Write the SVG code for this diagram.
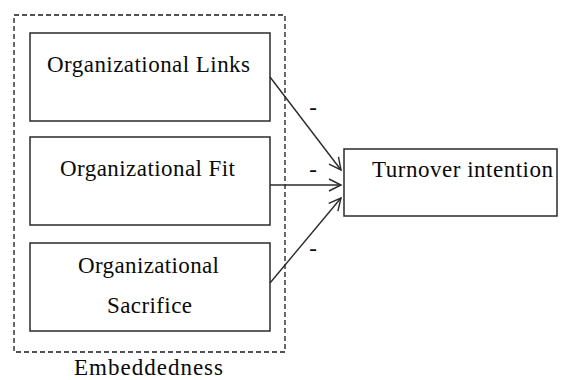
<svg xmlns="http://www.w3.org/2000/svg" width="572" height="380" viewBox="0 0 572 380">
  <style>
    .box { fill: #ffffff; stroke: #2a2a2a; stroke-width: 1.5; }
    .frame { fill: none; stroke: #1a1a1a; stroke-width: 1.3; stroke-dasharray: 5 3; }
    .label { font-size: 23px; fill: #0a0a0a; text-anchor: middle; }
    .edge { fill: none; stroke: #2a2a2a; stroke-width: 1.4; }
  </style>
  <defs>
    <marker id="open-arrow" markerWidth="16" markerHeight="16" refX="14" refY="8" orient="auto" markerUnits="userSpaceOnUse">
      <polyline points="2,2 14,8 2,14" fill="none" stroke="#2a2a2a" stroke-width="1.4"/>
    </marker>
  </defs>
  <rect width="572" height="380" fill="#ffffff"/>

  <g font-family="'Liberation Serif', 'DejaVu Serif', 'Times New Roman', serif">
    <!-- dashed grouping frame -->
    <g id="embeddedness">
      <rect class="frame" x="14" y="15" width="271" height="337"/>
      <text class="label" x="148.5" y="375" textLength="149" lengthAdjust="spacing">Embeddedness</text>
    </g>

    <g id="links">
      <rect class="box" x="30" y="33" width="240" height="88"/>
      <text class="label" x="148.5" y="72" textLength="203" lengthAdjust="spacing">Organizational Links</text>
    </g>

    <g id="fit">
      <rect class="box" x="30" y="137" width="240" height="88"/>
      <text class="label" x="147.5" y="176" textLength="175" lengthAdjust="spacing">Organizational Fit</text>
    </g>

    <g id="sacrifice">
      <rect class="box" x="30" y="243" width="240" height="88"/>
      <text class="label" x="148.5" y="273" textLength="141" lengthAdjust="spacing">Organizational</text>
      <text class="label" x="149.5" y="313" textLength="85" lengthAdjust="spacing">Sacrifice</text>
    </g>

    <g id="turnover">
      <rect class="box" x="344" y="149" width="213" height="67"/>
      <text class="label" x="462.5" y="177" textLength="181" lengthAdjust="spacing">Turnover intention</text>
    </g>

    <g id="connectors">
      <line class="edge" x1="270" y1="77" x2="341" y2="170" marker-end="url(#open-arrow)"/>
      <line class="edge" x1="270" y1="185" x2="341" y2="185" marker-end="url(#open-arrow)"/>
      <line class="edge" x1="270" y1="283" x2="341" y2="198" marker-end="url(#open-arrow)"/>
      <text class="label" x="313" y="115" font-size="16">-</text>
      <text class="label" x="313" y="177" font-size="16">-</text>
      <text class="label" x="313" y="256" font-size="16">-</text>
    </g>
  </g>
</svg>
